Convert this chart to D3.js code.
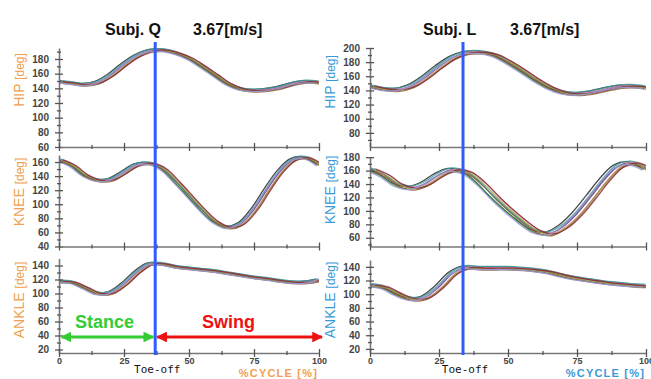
<!DOCTYPE html>
<html>
<head>
<meta charset="utf-8">
<script src="https://cdn.jsdelivr.net/npm/d3@7/dist/d3.min.js"></script>
<style>
  body { margin: 0; background: #fff; }
  svg { display: block; font-family: "Liberation Sans", Arial, sans-serif; }
</style>
</head>
<body>
<svg id="chart" width="651" height="379"></svg>
<script>
// ---- data ----
const cyclePct = [0, 5, 10, 15, 20, 25, 30, 35, 40, 45, 50, 55, 60, 65, 70, 75, 80, 85, 90, 95, 100];

// Subject Q (left)
const hipQ   = [149, 147, 145, 148, 158, 172, 184, 191, 192, 188, 181, 170, 158, 146, 139, 137, 138, 141, 146, 149, 148];
const kneeQ  = [163, 155, 141, 134, 135, 145, 156, 158, 150, 132, 112, 92, 75, 67, 72, 92, 120, 146, 163, 166, 156];
const ankleQ = [117, 116, 108, 100, 101, 113, 130, 142, 142, 138, 136, 134, 132, 129, 126, 123, 121, 118, 116, 116, 119];

// Subject L (right)
const hipL   = [146, 142, 141, 146, 158, 173, 186, 193, 194, 190, 180, 168, 155, 144, 137, 135, 137, 141, 145, 146, 144];
const kneeL  = [162, 153, 139, 134, 140, 153, 161, 157, 141, 120, 101, 84, 70, 66, 76, 95, 120, 146, 166, 171, 163];
const ankleL = [113, 110, 100, 93, 95, 110, 130, 139, 138, 138, 138, 137, 135, 132, 127, 123, 120, 117, 115, 113, 112];

// individual trials: small phase shift (% cycle) and level offset (deg)
const trialShift  = [-1.2, -0.6, 0, 0.5, 1.0, -0.3, 0.8, 1.4, -0.9];
const trialOffset = [1.5, -1.0, 0.5, -2.0, 1.0, 2.0, -0.5, 0, -1.5];
const trialColors = ['#2a2a2a', '#3f8f3f', '#7b3d8c', '#8a5a2a', '#d88aa0', '#3a9a9a', '#a0a040', '#8a2a3a', '#9a9ae0'];

const toeOffQ = 37;
const toeOffL = 33.7;

const joints = ['HIP', 'KNEE', 'ANKLE'];
const xMajor = [0, 25, 50, 75, 100];
const xMinor = [12.5, 37.5, 62.5, 87.5];

// ---- layout ----
const svg = d3.select('#chart');
const rows = [
  { bottom: 147 }, { bottom: 246.5 }, { bottom: 353 }
];

const subjects = [
  {
    title: 'Subj. Q', speed: '3.67[m/s]', titleX: 105, speedX: 193,
    x0: 59, x1: 319, labelX: 19, color: '#f0a050', toeOff: toeOffQ,
    panels: [
      { values: hipQ,   domain: [60, 195], top: 48,    ticks: [60, 80, 100, 120, 140, 160, 180], spread: 1 },
      { values: kneeQ,  domain: [40, 170], top: 155,   ticks: [40, 60, 80, 100, 120, 140, 160], spread: 1 },
      { values: ankleQ, domain: [15, 150], top: 258.5, ticks: [20, 40, 60, 80, 100, 120, 140], spread: 1 }
    ],
    labelY: [80, 192, 300]
  },
  {
    title: 'Subj. L', speed: '3.67[m/s]', titleX: 423, speedX: 510,
    x0: 370, x1: 646, labelX: 330, color: '#3a9ad8', toeOff: toeOffL,
    panels: [
      { values: hipL,   domain: [60, 200], top: 48,    ticks: [80, 100, 120, 140, 160, 180, 200], spread: 1.2 },
      { values: kneeL,  domain: [47, 181], top: 156.5, ticks: [60, 80, 100, 120, 140, 160, 180], spread: 1.5 },
      { values: ankleL, domain: [14, 150], top: 260,   ticks: [20, 40, 60, 80, 100, 120, 140], spread: 1.3 }
    ],
    labelY: [82, 190, 300]
  }
];

const defs = svg.append('defs');
['green', 'red'].forEach(c => {
  const col = c === 'green' ? '#33cc33' : '#ee1111';
  defs.append('marker')
    .attr('id', 'arrow-' + c)
    .attr('viewBox', '0 0 10 10')
    .attr('refX', 9).attr('refY', 5)
    .attr('markerWidth', 3.6).attr('markerHeight', 3.6)
    .attr('markerUnits', 'strokeWidth')
    .attr('orient', 'auto-start-reverse')
    .append('path')
    .attr('d', 'M0,0 L10,5 L0,10 z')
    .attr('fill', col);
});

subjects.forEach((s, si) => {
  const x = d3.scaleLinear().domain([0, 100]).range([s.x0, s.x1]);

  // title
  svg.append('text').attr('x', s.titleX).attr('y', 35)
    .attr('font-size', 16).attr('font-weight', 'bold').attr('fill', '#111')
    .text(s.title);
  svg.append('text').attr('x', s.speedX).attr('y', 35)
    .attr('font-size', 16).attr('font-weight', 'bold').attr('fill', '#111')
    .text(s.speed);

  s.panels.forEach((p, pi) => {
    const bottom = rows[pi].bottom;
    const y = d3.scaleLinear().domain(p.domain).range([bottom, p.top]);
    const clipId = 'clip-' + si + '-' + pi;
    defs.append('clipPath').attr('id', clipId)
      .append('rect')
      .attr('x', s.x0).attr('y', p.top - 6)
      .attr('width', s.x1 - s.x0).attr('height', bottom - p.top + 6);

    // trials
    const g = svg.append('g').attr('clip-path', 'url(#' + clipId + ')');
    trialColors.forEach((col, ti) => {
      const line = d3.line()
        .x((d, i) => x(cyclePct[i] + trialShift[ti] * p.spread))
        .y(d => y(d + trialOffset[ti] * p.spread))
        .curve(d3.curveCatmullRom.alpha(0.5));
      g.append('path')
        .attr('d', line(p.values))
        .attr('fill', 'none')
        .attr('stroke', col)
        .attr('stroke-width', 1.3)
        .attr('stroke-opacity', 0.85);
    });

    // y axis
    const yAxis = svg.append('g')
      .attr('transform', 'translate(' + s.x0 + ',0)')
      .call(d3.axisLeft(y).tickValues(p.ticks).tickSize(4).tickPadding(6).tickSizeOuter(0));
    yAxis.selectAll('.tick line').attr('x1', -4).attr('x2', 4);
    const minor = d3.range(Math.ceil(p.domain[0] / 10) * 10, p.domain[1], 10).filter(v => v % 20 !== 0);
    const yMinor = svg.append('g')
      .attr('transform', 'translate(' + s.x0 + ',0)')
      .call(d3.axisLeft(y).tickValues(minor).tickSize(2).tickFormat('').tickSizeOuter(0));
    yMinor.selectAll('.tick line').attr('x1', -2).attr('x2', 2);
    yMinor.select('.domain').remove();

    // x axis
    const isBottom = pi === s.panels.length - 1;
    const xAxis = svg.append('g')
      .attr('transform', 'translate(0,' + bottom + ')')
      .call(d3.axisBottom(x).tickValues(xMajor).tickSize(4).tickPadding(1).tickSizeOuter(0)
        .tickFormat(isBottom ? d3.format('d') : ''));
    xAxis.selectAll('.tick line').attr('y1', -4).attr('y2', 4);
    const xMin = svg.append('g')
      .attr('transform', 'translate(0,' + bottom + ')')
      .call(d3.axisBottom(x).tickValues(xMinor).tickSize(2).tickFormat('').tickSizeOuter(0));
    xMin.selectAll('.tick line').attr('y1', -2).attr('y2', 2);
    xMin.select('.domain').remove();

    [yAxis, yMinor, xAxis, xMin].forEach(a => {
      a.selectAll('.domain').attr('stroke', '#777').attr('stroke-width', 1.6);
      a.selectAll('.tick line').attr('stroke', '#555').attr('stroke-width', 1.3);
      a.selectAll('.tick text')
        .attr('font-size', 10).attr('font-weight', 'bold')
        .attr('font-family', '"Liberation Sans", Arial, sans-serif')
        .attr('fill', '#444');
    });
    xAxis.selectAll('.tick text').attr('font-size', 9);

    // joint label
    const lab = svg.append('text')
      .attr('transform', 'translate(' + (s.labelX + 5) + ',' + s.labelY[pi] + ') rotate(-90)')
      .attr('text-anchor', 'middle')
      .attr('fill', s.color)
      .attr('font-size', 14);
    lab.append('tspan').text(joints[pi] + ' ');
    lab.append('tspan').attr('font-size', 12).text('[deg]');
  });

  // toe-off line
  svg.append('line')
    .attr('x1', x(s.toeOff)).attr('x2', x(s.toeOff))
    .attr('y1', 42).attr('y2', 355)
    .attr('stroke', '#2f5bff').attr('stroke-width', 3);

  svg.append('text')
    .attr('x', x(s.toeOff) + 2).attr('y', 373)
    .attr('text-anchor', 'middle')
    .attr('font-family', '"DejaVu Sans Mono", monospace')
    .attr('font-size', 11).attr('fill', '#111')
    .text('Toe-off');

  svg.append('text')
    .attr('x', s.x1 - 1).attr('y', 377)
    .attr('text-anchor', 'end')
    .attr('font-size', 11).attr('font-weight', 'bold')
    .attr('letter-spacing', 1.2)
    .attr('fill', s.color)
    .text('%CYCLE [%]');
});

// stance / swing annotation (left panel)
const xl = d3.scaleLinear().domain([0, 100]).range([59, 319]);
svg.append('line')
  .attr('x1', xl(1)).attr('x2', xl(toeOffQ) - 2)
  .attr('y1', 337).attr('y2', 337)
  .attr('stroke', '#33cc33').attr('stroke-width', 3)
  .attr('marker-start', 'url(#arrow-green)').attr('marker-end', 'url(#arrow-green)');
svg.append('line')
  .attr('x1', xl(toeOffQ) + 2).attr('x2', xl(100) + 3)
  .attr('y1', 337).attr('y2', 337)
  .attr('stroke', '#ee1111').attr('stroke-width', 3)
  .attr('marker-start', 'url(#arrow-red)').attr('marker-end', 'url(#arrow-red)');
svg.append('text').attr('x', 75).attr('y', 328)
  .attr('font-size', 18).attr('font-weight', 'bold').attr('fill', '#33cc33')
  .text('Stance');
svg.append('text').attr('x', 202).attr('y', 328)
  .attr('font-size', 18).attr('font-weight', 'bold').attr('fill', '#ee1111')
  .text('Swing');
</script>
</body>
</html>
